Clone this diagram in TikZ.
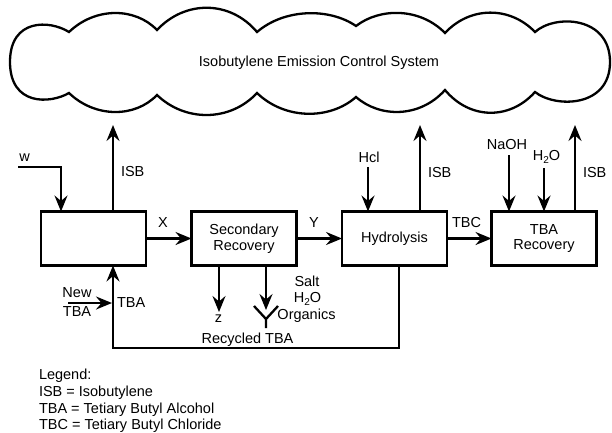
\documentclass[tikz,border=0pt]{standalone}
\usepackage{fontspec}
\setmainfont{Liberation Sans}
\usetikzlibrary{arrows.meta,calc}
\begin{document}
\begin{tikzpicture}[x=1bp,y=-1bp,
  every node/.style={inner sep=0pt,outer sep=0pt,font=\fontsize{14.5bp}{15.5bp}\selectfont},
  ln/.style={line width=2.3bp,line join=miter},
  arr/.style={ln,-{Stealth[length=16bp,width=13bp,inset=5.5bp]}},
  unit/.style={draw,line width=2.3bp,minimum width=105bp,minimum height=54bp,align=center},
  lbl/.style={anchor=base},
  lblw/.style={anchor=base west}]
\useasboundingbox (0,0) rectangle (612,432);
% cloud
\draw[ln] (69,32) .. controls (95,7) and (135,7) .. (157,30)
 .. controls (185,0) and (230,0) .. (257,32)
 .. controls (285,8) and (330,8) .. (356,26)
 .. controls (380,7.5) and (420,7.5) .. (445,33)
 .. controls (470,6) and (510,6) .. (535,32)
 .. controls (555,14) and (610,16) .. (610,62)
 .. controls (610,108) and (555,108) .. (535,92)
 .. controls (510,120) and (470,120) .. (445,90)
 .. controls (420,118) and (380,118) .. (356,97)
 .. controls (330,120) and (285,120) .. (257,93)
 .. controls (230,122) and (185,122) .. (157,95)
 .. controls (135,118) and (95,118) .. (69,93)
 .. controls (50,104) and (10,106) .. (10,62)
 .. controls (10,18) and (50,20) .. cycle;
\node (cloudtxt) at (319,63) {Isobutylene Emission Control System};
% units
\node[unit] (box1) at (93.5,238.5) {};
\node[unit] (box2) at (244,238.5) {Secondary\\Recovery};
\node[unit] (hyd) at (394.5,238.5) {Hydrolysis};
\node[unit] (tbarec) at (544,238.5) {TBA\\Recovery};
% coordinates
\coordinate (isb1) at (113,125);
\coordinate (isb2) at (420,125);
\coordinate (isb3) at (575,125);
\coordinate (win) at (18,167);
\coordinate (wdown) at (61,167);
\coordinate (hcl) at (368,167);
\coordinate (naoh) at (509,155);
\coordinate (hto) at (544,168);
\coordinate (rcR) at (399,348);
\coordinate (newtba) at (68,303);
\coordinate (zc) at (219,312);
\coordinate (sc) at (266,310);
\coordinate (forkL) at (254,306);
\coordinate (forkR) at (278,306);
\coordinate (forkM) at (266,319);
\coordinate (forkB) at (266,328);
% connectors
\draw[arr] (box1.north -| isb1) -- (isb1);
\draw[arr] (hyd.north -| isb2) -- (isb2);
\draw[arr] (tbarec.north -| isb3) -- (isb3);
\draw[arr] (win) -- (wdown) -- (box1.north -| wdown);
\draw[arr] (box1.east) -- (box2.west);
\draw[arr] (box2.east) -- (hyd.west);
\draw[arr] (hyd.east) -- (tbarec.west);
\draw[arr] (hcl) -- (hcl |- hyd.north);
\draw[arr] (naoh) -- (naoh |- tbarec.north);
\draw[arr] (hto) -- (hto |- tbarec.north);
\draw[arr] (hyd.south -| rcR) -- (rcR) -| (box1.south -| isb1);
\draw[arr] (newtba) -- ($(newtba -| isb1)+(-1,0)$);
\draw[arr] (box2.south -| zc) -- (zc);
\draw[arr] (box2.south -| sc) -- (sc);
\draw[ln] (forkL) -- (forkM) -- (forkR) (forkM) -- (forkB);
% labels
\node[lbl] (lw) at (24.5,161) {w};
\node[lblw] (lisb1) at (121,176) {ISB};
\node[lbl] (lx) at (163,227) {X};
\node[lbl] (ly) at (314,227) {Y};
\node[lbl] (lhcl) at (369,162) {Hcl};
\node[lblw] (lisb2) at (428,177) {ISB};
\node[lbl] (ltbc) at (466.5,227) {TBC};
\node[lbl] (lnaoh) at (507,149) {NaOH};
\node[lbl] (lh2o) at (546.5,160) {H\raisebox{-3bp}{\fontsize{10bp}{10bp}\selectfont 2}O};
\node[lblw] (lisb3) at (583,177) {ISB};
\node[lbl] (lnew) at (77,297) {New};
\node[lbl] (ltbal) at (77,316) {TBA};
\node[lblw] (ltbar) at (117,307) {TBA};
\node[lbl] (lz) at (218.5,322) {z};
\node[lbl] (lrec) at (247.5,343) {Recycled TBA};
\node[lbl] (lsalt) at (307,286) {Salt};
\node[lbl] (lsh2o) at (307.5,302) {H\raisebox{-3bp}{\fontsize{10bp}{10bp}\selectfont 2}O};
\node[lbl] (lorg) at (306.5,319) {Organics};
% legend
\node[lblw] (leg0) at (39,379) {Legend:};
\node[lblw] (leg1) at (39,396) {ISB = Isobutylene};
\node[lblw] (leg2) at (39,413) {TBA = Tetiary Butyl Alcohol};
\node[lblw] (leg3) at (39,429) {TBC = Tetiary Butyl Chloride};
\end{tikzpicture}
\end{document}
